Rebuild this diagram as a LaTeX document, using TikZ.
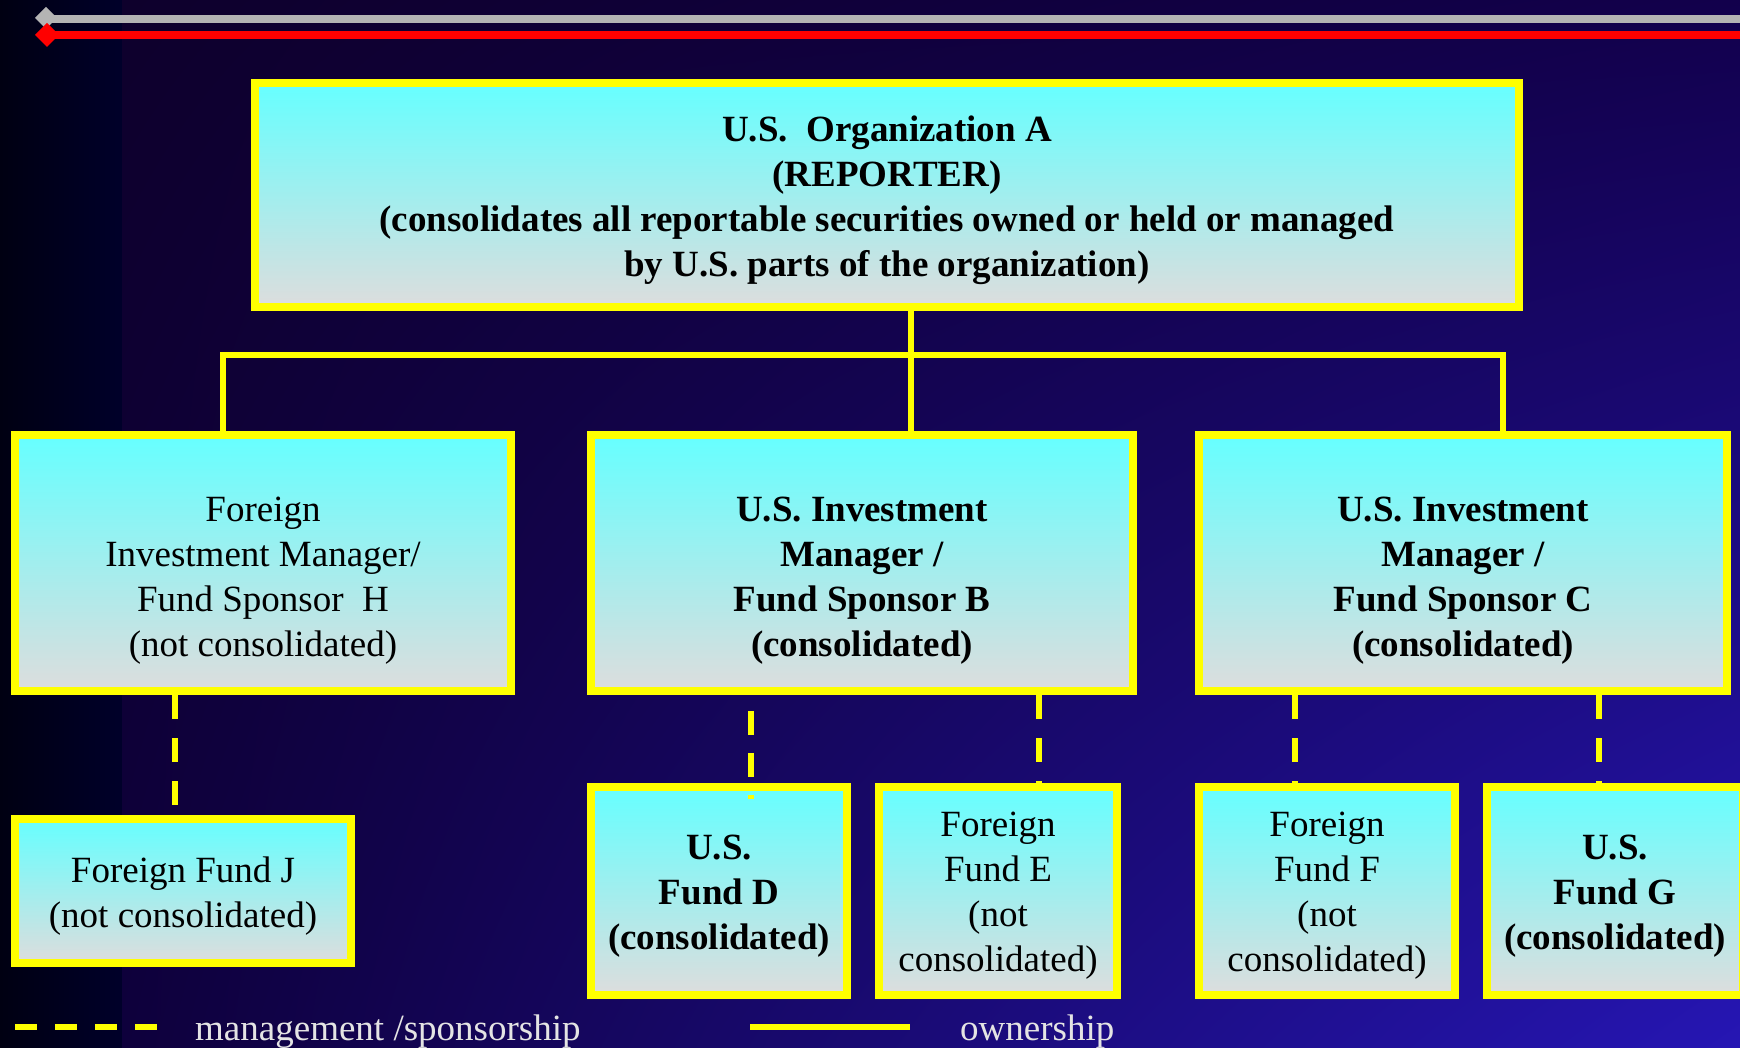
\documentclass[tikz,border=0pt]{standalone}
\usepackage{fontspec}
\setmainfont{Liberation Serif}
\usetikzlibrary{shadings}
\definecolor{boxline}{HTML}{FFFF00}
\definecolor{boxtop}{HTML}{66FFFF}
\definecolor{boxbot}{HTML}{DDDDDD}
\definecolor{decorgray}{HTML}{B4B4B4}
\definecolor{legendgray}{HTML}{E4E4E4}
\definecolor{bgA}{HTML}{000012}
\definecolor{bgB}{HTML}{00002A}
\definecolor{bgUL}{HTML}{0E002C}
\definecolor{bgUR}{HTML}{12004C}
\definecolor{bgLL}{HTML}{0E003C}
\definecolor{bgLR}{HTML}{2616B4}
\begin{document}
\begin{tikzpicture}[x=1pt,y=-1pt,
  orgbox/.style={draw=boxline,line width=8pt,top color=boxtop,bottom color=boxbot,inner sep=0pt},
  boxtext/.style={inner sep=0pt,align=center,font=\fontsize{37pt}{45pt}\selectfont},
  owns/.style={draw=boxline,line width=6pt},
  manages/.style={draw=boxline,line width=6pt,dash pattern=on 24pt off 19pt},
  legendtext/.style={text=legendgray,inner sep=0pt,anchor=base west,
    font=\fontsize{37pt}{45pt}\selectfont}]
\useasboundingbox (0,0) rectangle (1740,1048);
% background
\shade[left color=bgA,right color=bgB] (0,0) rectangle (122,1048);
\shade[upper left=bgUL,upper right=bgUR,lower left=bgLL,lower right=bgLR] (122,0) rectangle (1740,1048);
% top rules
\draw[decorgray,line width=8pt] (47,19) -- (1740,19);
\fill[decorgray] (46,7) -- (57,18) -- (46,29) -- (35,18) -- cycle;
\draw[red,line width=8pt] (47,35) -- (1740,35);
\fill[red] (47,23) -- (59,35) -- (47,47) -- (35,35) -- cycle;
% reporter
\node[orgbox,minimum width=1264pt,minimum height=224pt] (A) at (887,195) {};
\node[boxtext,font=\fontsize{37pt}{45pt}\selectfont\bfseries] (Atext) at (887,200)
  {U.S.\ \ Organization A\\ (REPORTER)\\
   (consolidates all reportable securities owned or held or managed\\
   by U.S. parts of the organization)};
% managers / sponsors
\node[orgbox,minimum width=496pt,minimum height=256pt] (H) at (263,563) {};
\node[boxtext] (Htext) at (263,581)
  {Foreign\\ Investment Manager/\\ Fund Sponsor\ \ H\\ (not consolidated)};
\node[orgbox,minimum width=542pt,minimum height=256pt] (B) at (862,563) {};
\node[boxtext,font=\fontsize{37pt}{45pt}\selectfont\bfseries] (Btext) at (862,581)
  {U.S. Investment\\ Manager /\\ Fund Sponsor B\\ (consolidated)};
\node[orgbox,minimum width=528pt,minimum height=256pt] (C) at (1463,563) {};
\node[boxtext,font=\fontsize{37pt}{45pt}\selectfont\bfseries] (Ctext) at (1463,581)
  {U.S. Investment\\ Manager /\\ Fund Sponsor C\\ (consolidated)};
% funds
\node[orgbox,minimum width=336pt,minimum height=144pt] (J) at (183,891) {};
\node[boxtext] (Jtext) at (183,896) {Foreign Fund J\\ (not consolidated)};
\node[orgbox,minimum width=256pt,minimum height=208pt] (D) at (719,891) {};
\node[boxtext,font=\fontsize{37pt}{45pt}\selectfont\bfseries] (Dtext) at (719,896)
  {U.S.\\ Fund D\\ (consolidated)};
\node[orgbox,minimum width=238pt,minimum height=208pt] (E) at (998,891) {};
\node[boxtext] (Etext) at (998,896) {Foreign\\ Fund E\\ (not\\ consolidated)};
\node[orgbox,minimum width=256pt,minimum height=208pt] (F) at (1327,891) {};
\node[boxtext] (Ftext) at (1327,896) {Foreign\\ Fund F\\ (not\\ consolidated)};
\node[orgbox,minimum width=256pt,minimum height=208pt] (G) at (1615,891) {};
\node[boxtext,font=\fontsize{37pt}{45pt}\selectfont\bfseries] (Gtext) at (1615,896)
  {U.S.\\ Fund G\\ (consolidated)};
% ownership
\coordinate (tapH) at (223,355);
\coordinate (tapB) at (911,355);
\coordinate (tapC) at (1503,355);
\draw[owns] (A.south -| tapB) -- (B.north -| tapB);
\draw[owns] (tapH |- H.north) -- (tapH) -- (tapC) -- (tapC |- C.north);
% management / sponsorship
\coordinate (tapJ) at (175,0);
\coordinate (tapD) at (751,0);
\coordinate (tapE) at (1039,0);
\coordinate (tapF) at (1295,0);
\coordinate (tapG) at (1599,0);
\draw[manages] (H.south -| tapJ) -- (J.north -| tapJ);
\draw[manages,dash pattern=on 24pt off 18pt,dash phase=26pt,shorten >=-16pt] (B.south -| tapD) -- (D.north -| tapD);
\draw[manages] (B.south -| tapE) -- (E.north -| tapE);
\draw[manages] (C.south -| tapF) -- (F.north -| tapF);
\draw[manages] (C.south -| tapG) -- (G.north -| tapG);
% legend
\coordinate (mgmtL) at (15,1027);
\coordinate (mgmtR) at (159,1027);
\coordinate (ownL) at (750,1027);
\coordinate (ownR) at (910,1027);
\draw[manages,dash pattern=on 22pt off 18pt] (mgmtL) -- (mgmtR);
\node[legendtext] (mgmt) at (195,1040) {management /sponsorship};
\draw[owns] (ownL) -- (ownR);
\node[legendtext] (own) at (960,1040) {ownership};
\end{tikzpicture}
\end{document}
